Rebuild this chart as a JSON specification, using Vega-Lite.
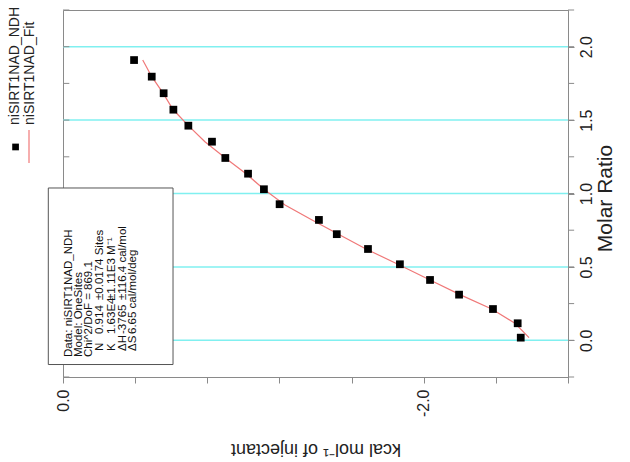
{
  "$schema": "https://vega.github.io/schema/vega-lite/v6.json",
  "width": 505,
  "height": 367,
  "autosize": {"type": "none"},
  "padding": {"left": 63, "top": 10, "right": 62, "bottom": 85},
  "background": "white",
  "config": {
    "view": {"stroke": "#8a8a8a", "strokeWidth": 1},
    "font": "Liberation Sans",
    "axis": {"domainColor": "#8a8a8a", "tickColor": "#8a8a8a", "labelColor": "#222222", "titleColor": "#222222", "labelFont": "Liberation Sans", "titleFont": "Liberation Sans", "titleFontWeight": "normal", "grid": false}
  },
  "datasets": {
    "grid": [{"ratio": 0}, {"ratio": 0.5}, {"ratio": 1}, {"ratio": 1.5}, {"ratio": 2}],
    "lticks": [{"ratio": -0.25}, {"ratio": 0}, {"ratio": 0.25}, {"ratio": 0.5}, {"ratio": 0.75}, {"ratio": 1}, {"ratio": 1.25}, {"ratio": 1.5}, {"ratio": 1.75}, {"ratio": 2}, {"ratio": 2.25}],
    "fit": [
      {"kcal": -0.442, "ratio": 1.909}, {"kcal": -0.493, "ratio": 1.794}, {"kcal": -0.554, "ratio": 1.685},
      {"kcal": -0.610, "ratio": 1.572}, {"kcal": -0.695, "ratio": 1.462}, {"kcal": -0.787, "ratio": 1.353},
      {"kcal": -0.900, "ratio": 1.242}, {"kcal": -1.015, "ratio": 1.135}, {"kcal": -1.114, "ratio": 1.029},
      {"kcal": -1.231, "ratio": 0.922}, {"kcal": -1.381, "ratio": 0.820}, {"kcal": -1.525, "ratio": 0.724},
      {"kcal": -1.680, "ratio": 0.622}, {"kcal": -1.857, "ratio": 0.518}, {"kcal": -2.035, "ratio": 0.411},
      {"kcal": -2.201, "ratio": 0.311}, {"kcal": -2.377, "ratio": 0.213}, {"kcal": -2.506, "ratio": 0.116},
      {"kcal": -2.584, "ratio": 0.018}
    ],
    "points": [
      {"kcal": -0.394, "ratio": 1.909}, {"kcal": -0.492, "ratio": 1.796}, {"kcal": -0.558, "ratio": 1.683},
      {"kcal": -0.612, "ratio": 1.571}, {"kcal": -0.695, "ratio": 1.462}, {"kcal": -0.826, "ratio": 1.353},
      {"kcal": -0.900, "ratio": 1.242}, {"kcal": -1.026, "ratio": 1.135}, {"kcal": -1.114, "ratio": 1.029},
      {"kcal": -1.201, "ratio": 0.927}, {"kcal": -1.419, "ratio": 0.820}, {"kcal": -1.518, "ratio": 0.723},
      {"kcal": -1.691, "ratio": 0.622}, {"kcal": -1.868, "ratio": 0.518}, {"kcal": -2.035, "ratio": 0.411},
      {"kcal": -2.196, "ratio": 0.311}, {"kcal": -2.384, "ratio": 0.213}, {"kcal": -2.521, "ratio": 0.116},
      {"kcal": -2.538, "ratio": 0.018}
    ],
    "box": [{"x1": 0.0815, "x2": -0.610, "y1": 1.0375, "y2": -0.165}],
    "boxtext": [
      {"x": -0.035, "y": -0.114, "label": "Data: niSIRT1NAD_NDH"},
      {"x": -0.0887, "y": -0.114, "label": "Model: OneSites"},
      {"x": -0.144, "y": -0.114, "label": "Chi^2/DoF = 869.1"},
      {"x": -0.205, "y": -0.073, "label": "N"},
      {"x": -0.205, "y": 0.043, "label": "0.914"},
      {"x": -0.205, "y": 0.2745, "label": "±0.0174 Sites"},
      {"x": -0.270, "y": -0.073, "label": "K"},
      {"x": -0.270, "y": 0.043, "label": "1.63E4"},
      {"x": -0.270, "y": 0.2745, "label": "±1.11E3 M⁻¹"},
      {"x": -0.331, "y": -0.073, "label": "ΔH"},
      {"x": -0.331, "y": 0.043, "label": "-3765"},
      {"x": -0.331, "y": 0.2745, "label": "±116.4 cal/mol"},
      {"x": -0.390, "y": -0.073, "label": "ΔS"},
      {"x": -0.390, "y": 0.043, "label": "6.65 cal/mol/deg"}
    ],
    "legendtext": [
      {"x": 0.266, "y": 1.467, "label": "niSIRT1NAD_NDH"},
      {"x": 0.183, "y": 1.467, "label": "niSIRT1NAD_Fit"}
    ],
    "legendsym": [{"x": 0.263, "y": 1.317}],
    "legendline": [{"x": 0.1885, "y1": 1.433, "y2": 1.208}]
  },
  "layer": [
    {
      "data": {"name": "grid"},
      "mark": {"type": "rule", "color": "#80F0F0", "strokeWidth": 1.5},
      "encoding": {
        "y": {"field": "ratio", "type": "quantitative",
          "scale": {"domain": [-0.25, 2.25], "nice": false, "zero": false},
          "axis": {"orient": "right", "values": [0, 0.5, 1, 1.5, 2], "format": ".1f",
            "labelAngle": 270, "labelPadding": 4, "labelFontSize": 16, "tickSize": 6, "labelFlush": false, "labelOverlap": false,
            "title": "Molar Ratio", "titleFontSize": 21, "titleAngle": 270, "titleX": 37, "titleY": 188, "titleBaseline": "middle", "titleAlign": "center"}}
      }
    },
    {
      "data": {"name": "lticks"},
      "mark": {"type": "rule", "color": "#8a8a8a", "strokeWidth": 1},
      "encoding": {
        "x": {"datum": 0, "type": "quantitative", "scale": {"domain": [-2.8, 0], "reverse": true, "nice": false, "zero": false},
          "axis": {"orient": "bottom", "values": [0, -0.4, -0.8, -1.2, -1.6, -2, -2.4, -2.8],
            "labelExpr": "abs(datum.value) < 0.001 ? '0.0' : (abs(datum.value + 2) < 0.001 ? '-2.0' : '')",
            "labelAngle": -90, "labelFontSize": 16, "labelPadding": 6, "tickSize": 6, "labelFlush": false, "labelOverlap": false,
            "title": "kcal mol⁻¹ of injectant", "titleFontSize": 18, "titleAngle": 180, "titleBaseline": "bottom", "titleY": 62}},
        "x2": {"datum": -0.035},
        "y": {"field": "ratio", "type": "quantitative"}
      }
    },
    {
      "data": {"name": "lticks"},
      "mark": {"type": "rule", "color": "#8a8a8a", "strokeWidth": 1},
      "encoding": {
        "x": {"datum": -2.8, "type": "quantitative"},
        "x2": {"datum": -2.834},
        "y": {"field": "ratio", "type": "quantitative"}
      }
    },
    {
      "data": {"name": "fit"},
      "mark": {"type": "line", "color": "#F07878", "strokeWidth": 1.2},
      "encoding": {
        "x": {"field": "kcal", "type": "quantitative"},
        "y": {"field": "ratio", "type": "quantitative"}
      }
    },
    {
      "data": {"name": "points"},
      "mark": {"type": "point", "shape": "square", "filled": true, "color": "black", "size": 60, "opacity": 1},
      "encoding": {
        "x": {"field": "kcal", "type": "quantitative"},
        "y": {"field": "ratio", "type": "quantitative"}
      }
    },
    {
      "data": {"name": "box"},
      "mark": {"type": "rect", "fill": "white", "stroke": "#555555", "strokeWidth": 1},
      "encoding": {
        "x": {"field": "x1", "type": "quantitative"},
        "x2": {"field": "x2"},
        "y": {"field": "y1", "type": "quantitative"},
        "y2": {"field": "y2"}
      }
    },
    {
      "data": {"name": "boxtext"},
      "mark": {"type": "text", "angle": -90, "align": "left", "baseline": "middle", "fontSize": 11.5, "color": "#111111", "font": "Liberation Sans"},
      "encoding": {
        "x": {"field": "x", "type": "quantitative"},
        "y": {"field": "y", "type": "quantitative"},
        "text": {"field": "label"}
      }
    },
    {
      "data": {"name": "legendtext"},
      "mark": {"type": "text", "angle": -90, "align": "left", "baseline": "middle", "fontSize": 14, "color": "#222222", "font": "Liberation Sans"},
      "encoding": {
        "x": {"field": "x", "type": "quantitative"},
        "y": {"field": "y", "type": "quantitative"},
        "text": {"field": "label"}
      }
    },
    {
      "data": {"name": "legendsym"},
      "mark": {"type": "point", "shape": "square", "filled": true, "color": "black", "size": 45, "opacity": 1},
      "encoding": {
        "x": {"field": "x", "type": "quantitative"},
        "y": {"field": "y", "type": "quantitative"}
      }
    },
    {
      "data": {"name": "legendline"},
      "mark": {"type": "rule", "color": "#F07878", "strokeWidth": 1.2},
      "encoding": {
        "x": {"field": "x", "type": "quantitative"},
        "y": {"field": "y1", "type": "quantitative"},
        "y2": {"field": "y2"}
      }
    }
  ]
}
